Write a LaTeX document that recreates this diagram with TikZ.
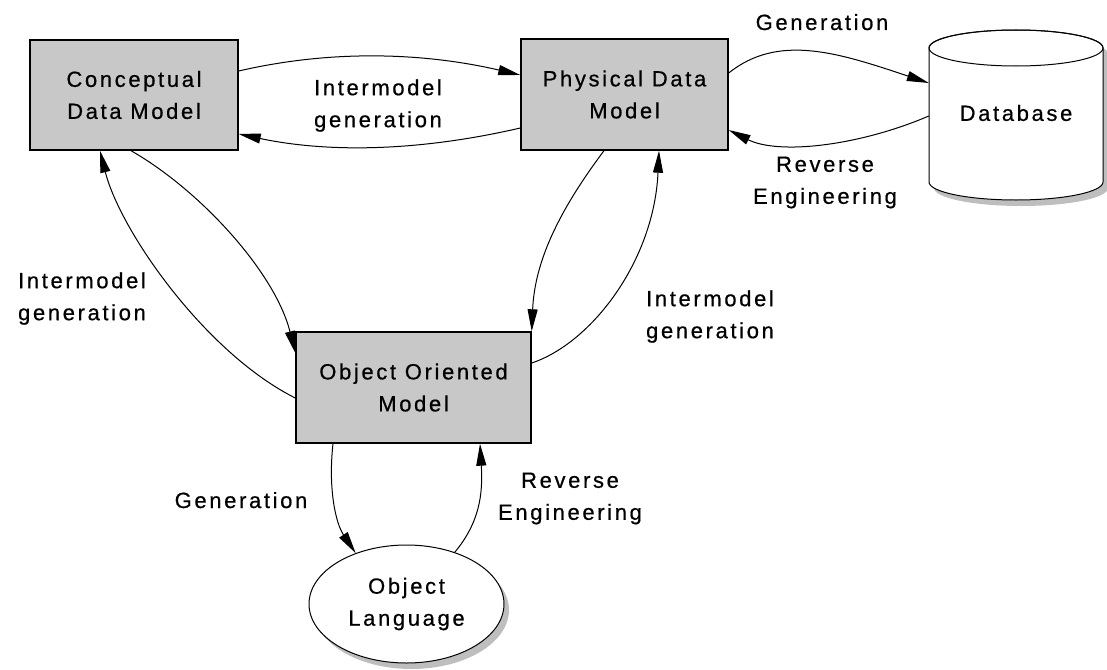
\documentclass[tikz,border=0pt]{standalone}
\usepackage{fontspec}
\setmainfont{Liberation Sans}[LetterSpace=12.0, FakeBold=0.6]
\usetikzlibrary{arrows.meta,shapes.geometric,shadows}
\definecolor{boxgray}{RGB}{200,200,200}
\definecolor{shadowgray}{RGB}{190,190,190}

\begin{document}
\begin{tikzpicture}[x=1pt,y=-1pt,
  every node/.style={font=\fontsize{22}{32}\selectfont, align=center},
  model/.style={draw, line width=1.4pt, fill=boxgray, inner sep=0pt},
  link/.style={line width=1pt, -{Triangle[length=22pt,width=10pt]}},
  lbl/.style={inner sep=0pt}
]
\useasboundingbox (0,0) rectangle (1107,669);

% model boxes
\node[model, minimum width=208pt, minimum height=110pt] (cdm) at (134,95) {Conceptual\\Data Model};
\node[model, minimum width=207pt, minimum height=111pt] (pdm) at (624.5,94.5) {Physical Data\\Model};
\node[model, minimum width=235pt, minimum height=111pt] (oom) at (413.5,387.5) {Object Oriented\\Model};

% object language
\node[ellipse, draw, line width=1pt, fill=white, minimum width=195pt, minimum height=118pt,
      inner sep=0pt, drop shadow={shadow xshift=5pt, shadow yshift=-6pt, fill=shadowgray, opacity=1}]
      (ol) at (406.5,604) {Object\\Language};

% database cylinder with its shadow
\fill[shadowgray] (934,54) -- (934,188) arc[start angle=180, end angle=360, x radius=87pt, y radius=18pt]
   -- (1108,54) arc[start angle=0, end angle=180, x radius=87pt, y radius=18pt] -- cycle;
\draw[fill=white, line width=1pt] (929,48) -- (929,182) arc[start angle=180, end angle=360, x radius=87pt, y radius=18pt]
   -- (1103,48) arc[start angle=0, end angle=180, x radius=87pt, y radius=18pt] -- cycle;
\draw[line width=1pt] (1016,48) ellipse[x radius=87pt, y radius=18pt];
\node[minimum width=174pt, minimum height=170pt, inner sep=0pt] (db) at (1016,113) {Database};

% connectors
\draw[link] ([yshift=24pt]cdm.east) .. controls +(95,-22) and +(-95,-22) .. ([yshift=19.5pt]pdm.west);
\draw[link] ([yshift=-33.5pt]pdm.west) .. controls +(-95,22) and +(95,20) .. ([yshift=-39pt]cdm.east);
\draw[link] ([yshift=21.5pt]pdm.east) .. controls +(50,-40) and +(-90,-30) .. ([yshift=30pt]db.west);
\draw[link] ([yshift=-3pt]db.west) .. controls +(-70,30) and +(50,25) .. ([yshift=-35.5pt]pdm.east);
\draw[link] ([xshift=-3pt]cdm.south) .. controls +(70,40) and +(-20,-80) .. ([yshift=34.5pt]oom.west);
\draw[link] ([yshift=-10.5pt]oom.west) .. controls +(-90,-45) and +(20,80) .. ([xshift=-34pt]cdm.south);
\draw[link] ([xshift=-20.5pt]pdm.south) .. controls +(-45,60) and +(3,-70) .. (oom.north east);
\draw[link] ([yshift=24.5pt]oom.east) .. controls +(60,-20) and +(-5,110) .. ([xshift=34.5pt]pdm.south);
\draw[link] ([xshift=-80.5pt]oom.south) .. controls +(-5,45) and +(-20,-30) .. (ol.135);
\draw[link] (ol.47) .. controls +(25,-30) and +(3,50) .. ([xshift=66.5pt]oom.south);

% connector labels
\node[lbl] (l1) at (378,105.5) {Intermodel\\generation};
\node[lbl, anchor=base] (l2) at (822,30) {Generation};
\node[lbl] (l3) at (825,182.5) {Reverse\\Engineering};
\node[lbl] (l4) at (82,298.5) {Intermodel\\generation};
\node[lbl] (l5) at (710,316.5) {Intermodel\\generation};
\node[lbl, anchor=base] (l6) at (241,508) {Generation};
\node[lbl] (l7) at (570,498.5) {Reverse\\Engineering};
\end{tikzpicture}
\end{document}
